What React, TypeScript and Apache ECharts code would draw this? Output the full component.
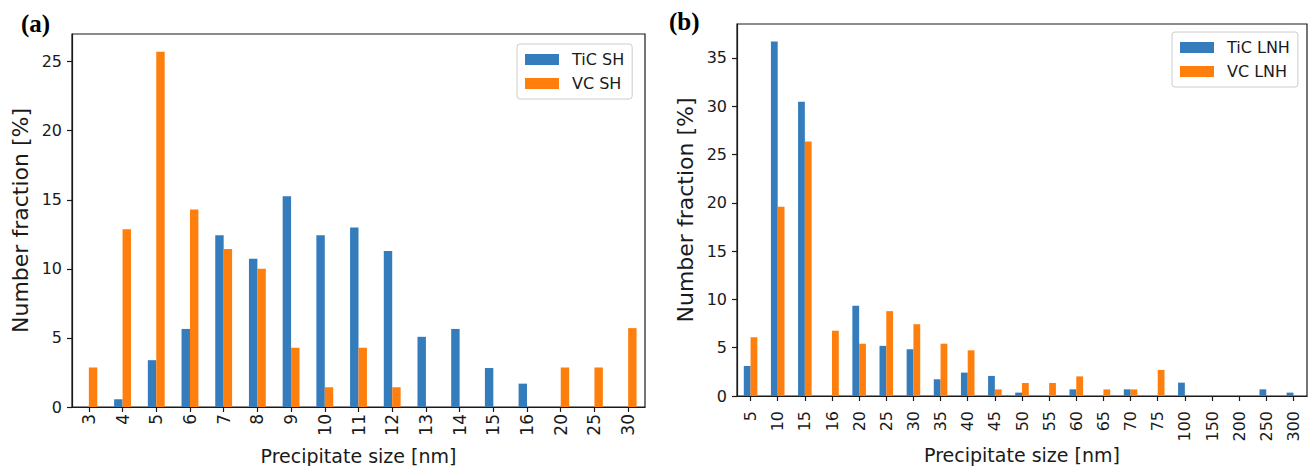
import React, { useEffect, useRef } from "react";
import * as echarts from "echarts";

const leftCategories = ["3", "4", "5", "6", "7", "8", "9", "10", "11", "12", "13", "14", "15", "16", "20", "25", "30"];
const tiCSH = [0, 0.56, 3.39, 5.65, 12.43, 10.73, 15.25, 12.43, 12.99, 11.3, 5.08, 5.65, 2.82, 1.69, 0, 0, 0];
const vcSH = [2.86, 12.86, 25.71, 14.29, 11.43, 10.0, 4.29, 1.43, 4.29, 1.43, 0, 0, 0, 0, 2.86, 2.86, 5.71];

const rightCategories = ["5", "10", "15", "16", "20", "25", "30", "35", "40", "45", "50", "55", "60", "65", "70", "75", "100", "150", "200", "250", "300"];
const tiCLNH = [3.11, 36.68, 30.45, 0, 9.34, 5.19, 4.84, 1.73, 2.42, 2.08, 0.35, 0, 0.69, 0, 0.69, 0, 1.38, 0, 0, 0.69, 0.35];
const vcLNH = [6.08, 19.59, 26.35, 6.76, 5.41, 8.78, 7.43, 5.41, 4.73, 0.68, 1.35, 1.35, 2.03, 0.68, 0.68, 2.7, 0, 0, 0, 0, 0];

const leftYTicks = [0, 5, 10, 15, 20, 25];
const rightYTicks = [0, 5, 10, 15, 20, 25, 30, 35];

const BLUE = "#347cbc";
const ORANGE = "#ff7f0e";
const FONT = "DejaVu Sans";
const INK = "#1a1a1a";

export default function App() {
  const ref = useRef<HTMLDivElement>(null);

  useEffect(() => {
    if (!ref.current) return;
    const chart = echarts.init(ref.current, null, { renderer: "svg" });

    const xAxisCommon = (cats: string[], fs: number, margin: number, gap: number) => ({
      type: "category",
      data: cats,
      boundaryGap: true,
      axisLine: { show: true, lineStyle: { color: INK, width: 1.2 } },
      axisTick: { show: true, alignWithLabel: true, length: 5, lineStyle: { color: INK, width: 1.2 } },
      axisLabel: { interval: 0, rotate: 90, fontSize: fs, fontFamily: FONT, color: INK, margin },
      name: "Precipitate size [nm]",
      nameLocation: "middle",
      nameGap: gap,
      nameMoveOverlap: false,
      nameTextStyle: { fontSize: 19, fontFamily: FONT, color: INK, lineHeight: 20 },
      splitLine: { show: false },
    });

    const yAxisCommon = (max: number, ticks: number[], gap: number) => ({
      type: "value",
      min: 0,
      max,
      interval: 5,
      axisLine: { show: true, lineStyle: { color: INK, width: 1.2 } },
      axisTick: { show: true, length: 5, customValues: ticks, lineStyle: { color: INK, width: 1.2 } },
      axisLabel: { fontSize: 16, fontFamily: FONT, color: INK, margin: 10, customValues: ticks },
      splitLine: { show: false },
      name: "Number fraction [%]",
      nameLocation: "middle",
      nameGap: gap,
      nameMoveOverlap: false,
      nameTextStyle: { fontSize: 22, fontFamily: FONT, color: INK },
    });

    const legendCommon = {
      orient: "vertical",
      icon: "rect",
      itemWidth: 34,
      itemHeight: 11,
      itemGap: 5,
      backgroundColor: "#ffffff",
      borderColor: "#cccccc",
      borderWidth: 1,
      borderRadius: 3,
      padding: [6, 8, 6, 8],
      textStyle: { fontSize: 16, fontFamily: FONT, color: INK, lineHeight: 19, padding: [0, 0, 0, 8] },
    };

    chart.setOption({
      animation: false,
      backgroundColor: "#ffffff",
      title: [
        {
          text: "(a)",
          left: 21,
          top: 11,
          padding: 0,
          textStyle: { fontFamily: "Liberation Serif", fontWeight: "bold", fontSize: 25, color: "#000" },
        },
        {
          text: "(b)",
          left: 669,
          top: 9,
          padding: 0,
          textStyle: { fontFamily: "Liberation Serif", fontWeight: "bold", fontSize: 25, color: "#000" },
        },
      ],
      legend: [
        { ...legendCommon, data: ["TiC SH", "VC SH"], left: 517, top: 44 },
        { ...legendCommon, data: ["TiC LNH", "VC LNH"], left: 1172, top: 32 },
      ],
      grid: [
        { left: 72, top: 34, width: 573, height: 373, outerBoundsMode: "none", containLabel: false, show: true, borderColor: INK, borderWidth: 1.2, backgroundColor: "transparent" },
        { left: 737, top: 24, width: 570, height: 372, outerBoundsMode: "none", containLabel: false, show: true, borderColor: INK, borderWidth: 1.2, backgroundColor: "transparent" },
      ],
      xAxis: [
        { ...xAxisCommon(leftCategories, 17, 7, 39), gridIndex: 0 },
        { ...xAxisCommon(rightCategories, 16, 15, 49), gridIndex: 1 },
      ],
      yAxis: [
        { ...yAxisCommon(27.0, leftYTicks, 41), gridIndex: 0 },
        { ...yAxisCommon(38.5, rightYTicks, 41), gridIndex: 1 },
      ],
      series: [
        { name: "TiC SH", type: "bar", xAxisIndex: 0, yAxisIndex: 0, data: tiCSH, barWidth: "25%", barGap: "0%", itemStyle: { color: BLUE } },
        { name: "VC SH", type: "bar", xAxisIndex: 0, yAxisIndex: 0, data: vcSH, barWidth: "25%", barGap: "0%", itemStyle: { color: ORANGE } },
        { name: "TiC LNH", type: "bar", xAxisIndex: 1, yAxisIndex: 1, data: tiCLNH, barWidth: "25%", barGap: "0%", itemStyle: { color: BLUE } },
        { name: "VC LNH", type: "bar", xAxisIndex: 1, yAxisIndex: 1, data: vcLNH, barWidth: "25%", barGap: "0%", itemStyle: { color: ORANGE } },
      ],
    });

    return () => {
      chart.dispose();
    };
  }, []);

  return (
    <div
      ref={ref}
      style={{ position: "fixed", left: 0, top: 0, width: 1312, height: 466, background: "#fff" }}
    />
  );
}
